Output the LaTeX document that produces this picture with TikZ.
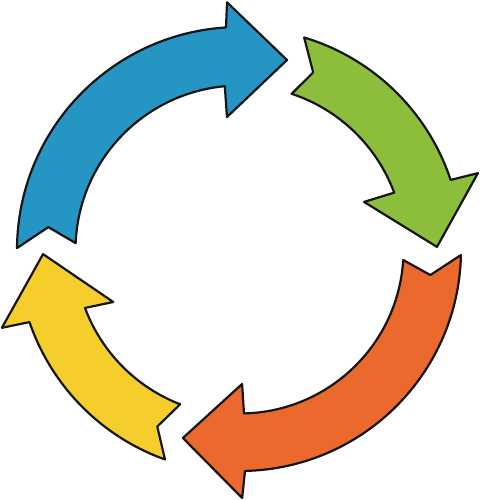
\documentclass[tikz,border=0pt]{standalone}
\usetikzlibrary{calc}
\definecolor{ablue}{HTML}{2596C4}
\definecolor{agreen}{HTML}{8CBE3C}
\definecolor{aorange}{HTML}{EB692D}
\definecolor{ayellow}{HTML}{F6CE2C}
\definecolor{outline}{HTML}{151515}
\tikzset{arrowshape/.style={draw=outline, line width=2.2pt, line join=round}}
\begin{document}
\begin{tikzpicture}[x=1pt,y=1pt]
\useasboundingbox (0,0) rectangle (479,500);
\begin{scope}[shift={(240,250)}]
% blue
\path[arrowshape, fill=ablue]
  (179.5:223) arc[start angle=179.5, end angle=93.6, radius=223]
  -- (93:248) -- (76.1:195.7) -- (95.6:133.6) -- (95.3:164.5)
  arc[start angle=95.3, end angle=177.6, radius=164.5]
  -- (173.2:193) -- cycle;
% green
\path[arrowshape, fill=agreen]
  (73.2:222) arc[start angle=73.2, end angle=18.4, radius=222]
  -- (17.9:250) -- (0.9:197) -- (21.2:133) -- (20.4:164.5)
  arc[start angle=20.4, end angle=71.7, radius=164.5]
  -- (67.6:192) -- cycle;
% orange
\path[arrowshape, fill=aorange]
  (-1.3:221) arc[start angle=-1.3, end angle=-88.7, radius=221]
  -- (-89.5:248) -- (-106.9:196.5) -- (-89.1:134) -- (-88.6:163.5)
  arc[start angle=-88.6, end angle=-3.5, radius=163.5]
  -- (-7.5:192) -- cycle;
% yellow
\path[arrowshape, fill=ayellow]
  (250.3:222.5) arc[start angle=250.3, end angle=198.9, radius=222.5]
  -- (198.1:250.5) -- (181.2:197) -- (202.3:137) -- (200.5:165.5)
  arc[start angle=200.5, end angle=248.8, radius=165.5]
  -- (244.9:195) -- cycle;
\end{scope}
\end{tikzpicture}
\end{document}
